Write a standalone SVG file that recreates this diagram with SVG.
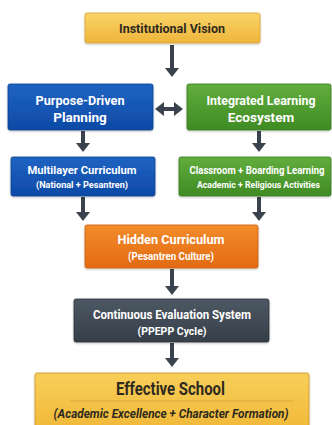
<svg xmlns="http://www.w3.org/2000/svg" width="332" height="425" viewBox="0 0 332 425">
<defs>
<linearGradient id="gY" x1="0" y1="0" x2="0" y2="1"><stop offset="0" stop-color="#f9d468"/><stop offset="1" stop-color="#efb53a"/></linearGradient>
<linearGradient id="gY2" x1="0" y1="0" x2="0" y2="1"><stop offset="0" stop-color="#f8cf5a"/><stop offset="1" stop-color="#f0b736"/></linearGradient>
<linearGradient id="gB" x1="0" y1="0" x2="0" y2="1"><stop offset="0" stop-color="#1f63c2"/><stop offset="1" stop-color="#0e4aa6"/></linearGradient>
<linearGradient id="gG" x1="0" y1="0" x2="0" y2="1"><stop offset="0" stop-color="#62ad3d"/><stop offset="1" stop-color="#3f8b24"/></linearGradient>
<linearGradient id="gO" x1="0" y1="0" x2="0" y2="1"><stop offset="0" stop-color="#f38c2c"/><stop offset="1" stop-color="#e26a12"/></linearGradient>
<linearGradient id="gS" x1="0" y1="0" x2="0" y2="1"><stop offset="0" stop-color="#4d5863"/><stop offset="1" stop-color="#353e48"/></linearGradient>
<filter id="sh" x="-10%" y="-10%" width="120%" height="130%"><feDropShadow dx="0" dy="1" stdDeviation="1" flood-color="#000" flood-opacity="0.25"/></filter>
<marker id="ah" markerUnits="userSpaceOnUse" markerWidth="9" markerHeight="14" refX="0" refY="7" orient="auto-start-reverse" viewBox="0 0 9 14"><path d="M0,0 L9,7 L0,14 Z" fill="#3a434d"/></marker>
</defs>
<style>
text{font-family:"Liberation Sans Narrow","Roboto","Liberation Sans",sans-serif;font-weight:bold;text-anchor:middle}
.w{fill:#ffffff}
.d{fill:#2e2a1f}
.box{filter:url(#sh)}
.conn line{stroke:#3a434d;stroke-width:4}
</style>
<rect width="332" height="425" fill="#ffffff"/>
<g id="connectors" class="conn">
<line x1="172" y1="45" x2="172" y2="68" marker-end="url(#ah)"/>
<line x1="164" y1="109" x2="174" y2="109" marker-start="url(#ah)" marker-end="url(#ah)"/>
<line x1="83" y1="131" x2="83" y2="143" marker-end="url(#ah)"/>
<line x1="259" y1="131" x2="259" y2="143" marker-end="url(#ah)"/>
<line x1="83" y1="197" x2="83" y2="212" marker-end="url(#ah)"/>
<line x1="259" y1="197" x2="259" y2="212" marker-end="url(#ah)"/>
<line x1="172" y1="269" x2="172" y2="286" marker-end="url(#ah)"/>
<line x1="172" y1="343" x2="172" y2="358" marker-end="url(#ah)"/>
</g>
<g id="institutional-vision">
<rect class="box" x="85" y="13" width="175" height="30" rx="2" fill="url(#gY)" stroke="#d9a230" stroke-width="0.8"/>
<text class="d" x="172" y="33" font-size="13" textLength="106" lengthAdjust="spacingAndGlyphs">Institutional Vision</text>
</g>
<g id="purpose-driven-planning">
<rect class="box" x="8" y="84" width="145" height="46" rx="2" fill="url(#gB)" stroke="#0b3f8f" stroke-width="0.8"/>
<text class="w" x="80" y="104.5" font-size="13.5" textLength="89" lengthAdjust="spacingAndGlyphs">Purpose-Driven</text>
<text class="w" x="80" y="121.5" font-size="13.5">Planning</text>
</g>
<g id="integrated-learning-ecosystem">
<rect class="box" x="187" y="84" width="144" height="46" rx="2" fill="url(#gG)" stroke="#377a20" stroke-width="0.8"/>
<text class="w" x="261" y="104.5" font-size="13.5" textLength="109" lengthAdjust="spacingAndGlyphs">Integrated Learning</text>
<text class="w" x="261" y="121.5" font-size="13.5">Ecosystem</text>
</g>
<g id="multilayer-curriculum">
<rect class="box" x="11" y="157" width="144" height="39" rx="2" fill="url(#gB)" stroke="#0b3f8f" stroke-width="0.8"/>
<text class="w" x="82" y="174" font-size="11.5" textLength="109" lengthAdjust="spacingAndGlyphs">Multilayer Curriculum</text>
<text class="w" x="82" y="187.5" font-size="9" textLength="92" lengthAdjust="spacingAndGlyphs">(National + Pesantren)</text>
</g>
<g id="classroom-boarding-learning">
<rect class="box" x="179" y="157" width="152" height="39" rx="2" fill="url(#gG)" stroke="#377a20" stroke-width="0.8"/>
<text class="w" transform="translate(257 173.5) scale(0.9 1)" x="0" y="0" font-size="10.5" textLength="150" lengthAdjust="spacingAndGlyphs">Classroom + Boarding Learning</text>
<text class="w" x="258.5" y="187.5" font-size="9.5" textLength="123" lengthAdjust="spacingAndGlyphs">Academic + Religious Activities</text>
</g>
<g id="hidden-curriculum">
<rect class="box" x="85" y="225" width="173" height="43" rx="2" fill="url(#gO)" stroke="#c95d0e" stroke-width="0.8"/>
<text class="w" x="171" y="244" font-size="13.5" textLength="107" lengthAdjust="spacingAndGlyphs">Hidden Curriculum</text>
<text class="w" x="171" y="260" font-size="10" textLength="86" lengthAdjust="spacingAndGlyphs">(Pesantren Culture)</text>
</g>
<g id="continuous-evaluation-system">
<rect class="box" x="74" y="299" width="195" height="43" rx="2" fill="url(#gS)" stroke="#2b323a" stroke-width="0.8"/>
<text class="w" x="172" y="318.5" font-size="12" textLength="158" lengthAdjust="spacingAndGlyphs">Continuous Evaluation System</text>
<text class="w" x="172" y="334.5" font-size="11" textLength="69" lengthAdjust="spacingAndGlyphs">(PPEPP Cycle)</text>
</g>
<g id="effective-school">
<rect class="box" x="35" y="373" width="274" height="60" rx="2" fill="url(#gY2)" stroke="#c9962a" stroke-width="0.8"/>
<line x1="70" y1="401" x2="293" y2="401" stroke="#d9a83a" stroke-width="1"/>
<text class="d" x="170.5" y="394.5" font-size="18" textLength="109" lengthAdjust="spacingAndGlyphs">Effective School</text>
<text class="d" x="171" y="418" font-size="12.5" font-style="italic" textLength="235" lengthAdjust="spacingAndGlyphs">(Academic Excellence + Character Formation)</text>
</g>
</svg>
